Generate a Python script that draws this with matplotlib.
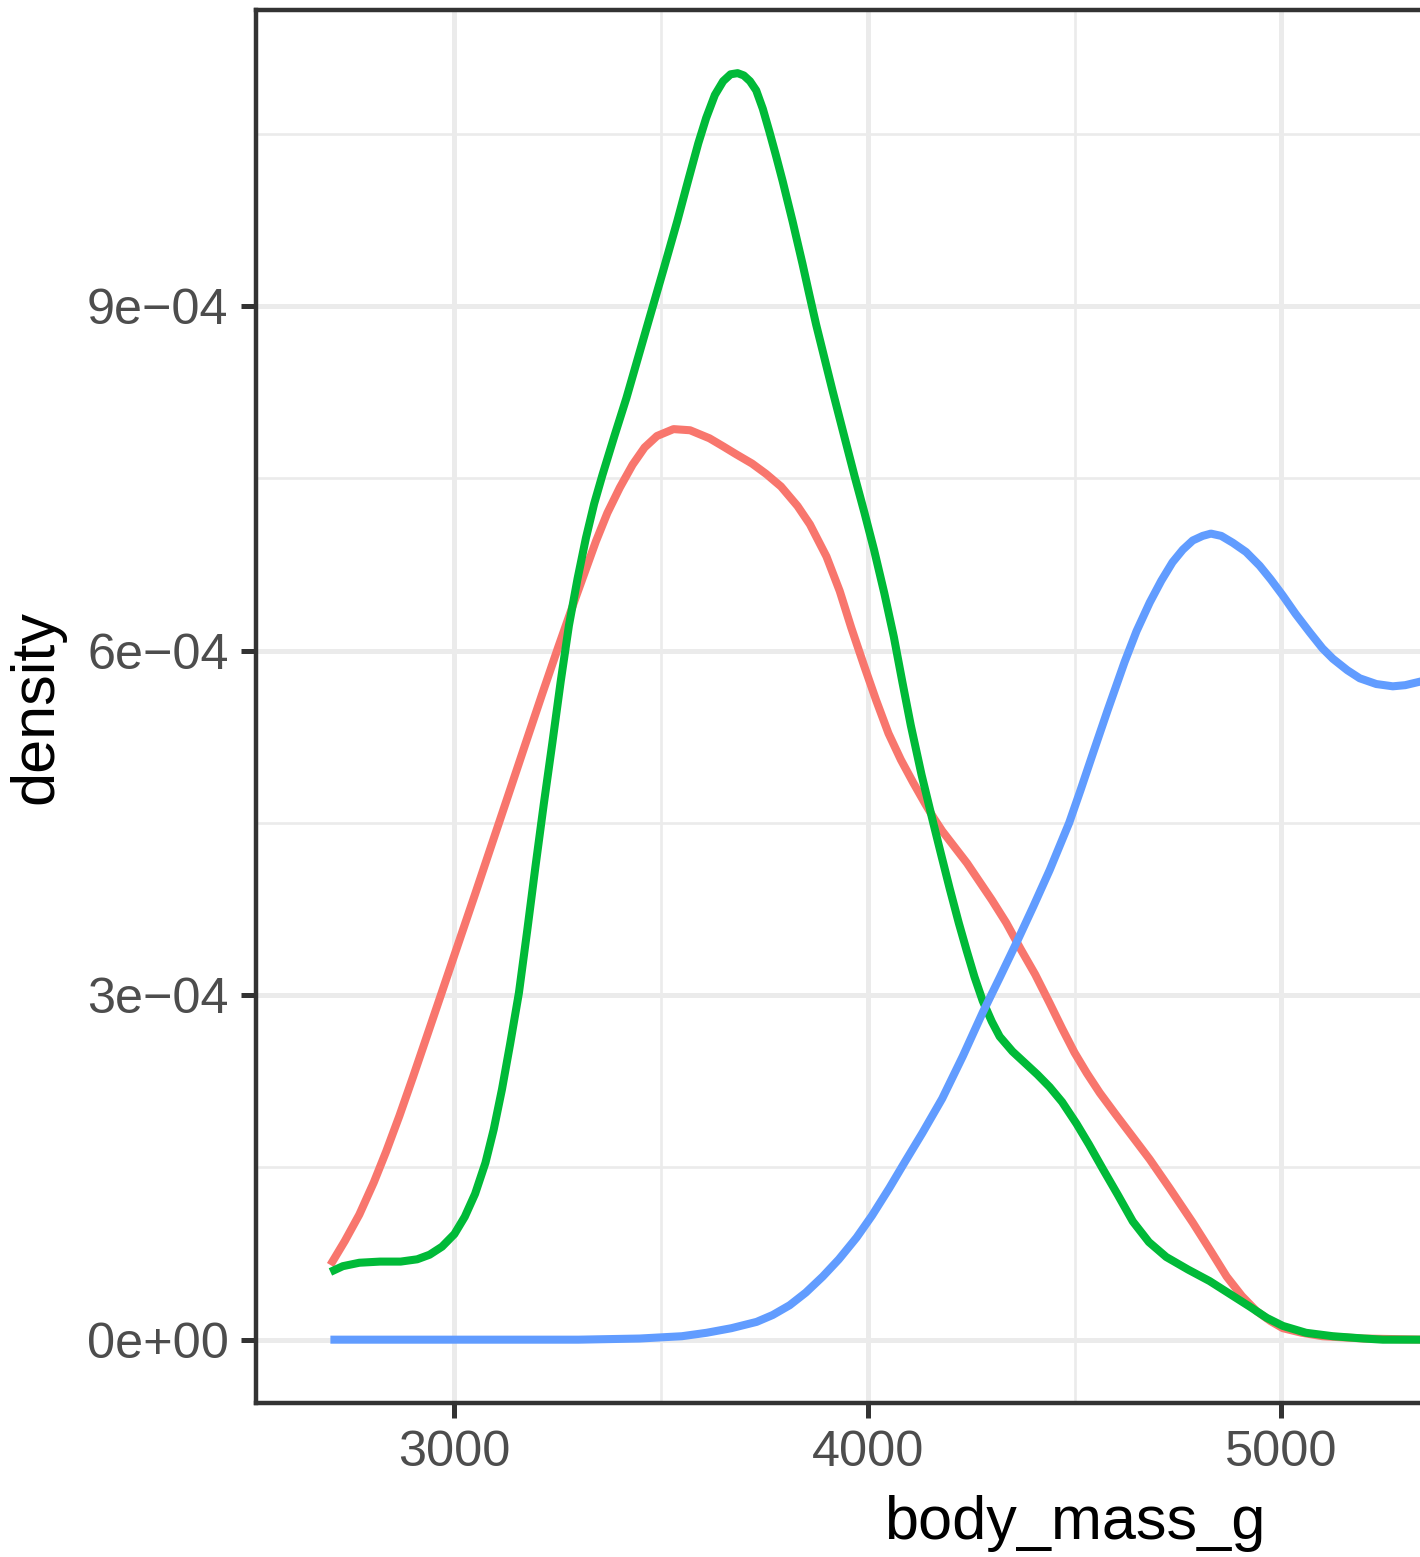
import numpy as np
import matplotlib.pyplot as plt

# density curves of body mass per species (density values in units of 1e-4)
adelie_x = [2700, 2735, 2770, 2805, 2835, 2867, 2900, 2935, 2969, 3000, 3050, 3090,
            3131, 3170, 3212, 3250, 3293, 3320, 3342, 3370, 3400, 3431, 3460, 3490,
            3530, 3570, 3617, 3650, 3682, 3720, 3754, 3790, 3830, 3860, 3900, 3932,
            3960, 3990, 4020, 4050, 4080, 4110, 4140, 4160, 4180, 4210, 4240, 4270,
            4300, 4335, 4370, 4405, 4440, 4470, 4500, 4530, 4561, 4600, 4640, 4682,
            4730, 4786, 4830, 4868, 4905, 4940, 4975, 5004, 5050, 5100, 5200, 5350]
adelie_y = [0.65, 0.86, 1.09, 1.37, 1.64, 1.95, 2.29, 2.66, 3.02, 3.35, 3.88, 4.31,
            4.75, 5.17, 5.62, 6.02, 6.46, 6.73, 6.95, 7.20, 7.42, 7.62, 7.77, 7.87,
            7.93, 7.92, 7.85, 7.78, 7.71, 7.63, 7.54, 7.43, 7.26, 7.10, 6.82, 6.52,
            6.20, 5.88, 5.57, 5.28, 5.05, 4.85, 4.66, 4.54, 4.43, 4.29, 4.15, 3.99,
            3.83, 3.63, 3.40, 3.18, 2.93, 2.71, 2.50, 2.32, 2.15, 1.96, 1.77, 1.57,
            1.32, 1.02, 0.77, 0.55, 0.38, 0.25, 0.16, 0.10, 0.06, 0.03, 0.01, 0.0]

chinstrap_x = [2700, 2730, 2770, 2820, 2870, 2910, 2940, 2970, 3000, 3025, 3050,
               3075, 3095, 3115, 3135, 3156, 3176, 3196, 3216, 3237, 3257, 3277,
               3298, 3318, 3338, 3358, 3387, 3416, 3444, 3472, 3505, 3539, 3565,
               3590, 3609, 3630, 3650, 3668, 3685, 3700, 3715, 3730, 3746, 3762,
               3778, 3794, 3818, 3842, 3858, 3875, 3895, 3915, 3940, 3968, 3992,
               4015, 4040, 4063, 4084, 4104, 4130, 4157, 4177, 4198, 4220, 4239,
               4258, 4278, 4300, 4319, 4350, 4383, 4410, 4440, 4470, 4505, 4535,
               4568, 4605, 4641, 4680, 4722, 4775, 4827, 4875, 4923, 4965, 5004,
               5060, 5125, 5200, 5246, 5350]
chinstrap_y = [0.59, 0.64, 0.67, 0.68, 0.68, 0.70, 0.74, 0.81, 0.92, 1.07, 1.27,
               1.54, 1.83, 2.18, 2.58, 3.02, 3.56, 4.12, 4.66, 5.20, 5.73, 6.22,
               6.63, 6.98, 7.28, 7.53, 7.87, 8.20, 8.55, 8.90, 9.31, 9.74, 10.09,
               10.42, 10.64, 10.84, 10.96, 11.02, 11.03, 11.01, 10.96, 10.88, 10.72,
               10.52, 10.31, 10.09, 9.74, 9.37, 9.11, 8.84, 8.55, 8.26, 7.91, 7.52,
               7.20, 6.88, 6.50, 6.12, 5.72, 5.35, 4.92, 4.52, 4.23, 3.93, 3.63,
               3.39, 3.16, 2.95, 2.77, 2.64, 2.51, 2.40, 2.31, 2.20, 2.07, 1.88,
               1.70, 1.49, 1.26, 1.03, 0.85, 0.72, 0.61, 0.51, 0.40, 0.29, 0.19,
               0.12, 0.06, 0.03, 0.01, 0.0, 0.0]

gentoo_x = [2700, 3000, 3300, 3448, 3550, 3610, 3670, 3731, 3770, 3811, 3850, 3891,
            3930, 3973, 4010, 4052, 4090, 4132, 4180, 4230, 4278, 4320, 4360, 4400,
            4440, 4487, 4515, 4544, 4580, 4621, 4650, 4682, 4710, 4737, 4762, 4786,
            4810, 4830, 4855, 4883, 4915, 4948, 4975, 5004, 5035, 5069, 5100, 5125,
            5160, 5190, 5230, 5270, 5300, 5335, 5400]
gentoo_y = [0.0, 0.0, 0.0, 0.01, 0.03, 0.06, 0.10, 0.155, 0.215, 0.30, 0.41, 0.55,
            0.70, 0.89, 1.08, 1.32, 1.55, 1.80, 2.10, 2.47, 2.85, 3.16, 3.46, 3.77,
            4.09, 4.50, 4.79, 5.10, 5.48, 5.90, 6.17, 6.42, 6.61, 6.77, 6.88, 6.96,
            7.00, 7.02, 7.00, 6.94, 6.86, 6.74, 6.62, 6.48, 6.32, 6.16, 6.02, 5.93,
            5.83, 5.76, 5.71, 5.69, 5.70, 5.73, 5.80]

x_ticks = [3000, 4000, 5000]
x_minor = [3500, 4500]
y_ticks = [0, 3e-4, 6e-4, 9e-4]
y_minor = [1.5e-4, 4.5e-4, 7.5e-4, 10.5e-4]
y_labels = ["0e+00", "3e\u221204", "6e\u221204", "9e\u221204"]

plt.rcParams['font.family'] = ['Liberation Sans', 'DejaVu Sans']

fig = plt.figure(figsize=(14.2, 15.57), dpi=100)
# panel is wider than the canvas, right part gets cut off
ax = fig.add_axes([256 / 1420, 154 / 1557, 1637 / 1420, 1393 / 1557])

for xs, ys, col in [(adelie_x, adelie_y, '#F8766D'),
                    (chinstrap_x, chinstrap_y, '#00BA38'),
                    (gentoo_x, gentoo_y, '#619CFF')]:
    ax.plot(xs, np.array(ys) * 1e-4, color=col, lw=5.8,
            solid_joinstyle='round', solid_capstyle='butt', zorder=3)

ax.set_xlim(2520, 6480)
ax.set_ylim(-0.5515e-4, 11.58e-4)

ax.set_xticks(x_ticks)
ax.set_xticks(x_minor, minor=True)
ax.set_yticks(y_ticks)
ax.set_yticks(y_minor, minor=True)
ax.set_yticklabels(y_labels)

ax.set_axisbelow(True)
ax.grid(which='major', color='#EBEBEB', lw=3.6)
ax.grid(which='minor', color='#EBEBEB', lw=1.9)

for s in ax.spines.values():
    s.set_color('#333333')
    s.set_linewidth(3.2)
    s.set_zorder(4)

ax.tick_params(which='major', length=10.8, width=3.6, color='#333333',
               labelsize=36.3, labelcolor='#4D4D4D', pad=9)
ax.tick_params(which='minor', length=0)

ax.set_xlabel('body_mass_g', fontsize=44, labelpad=13)
ax.set_ylabel('density', fontsize=44, labelpad=15)

fig.savefig('out.png', dpi=100, facecolor='white')
